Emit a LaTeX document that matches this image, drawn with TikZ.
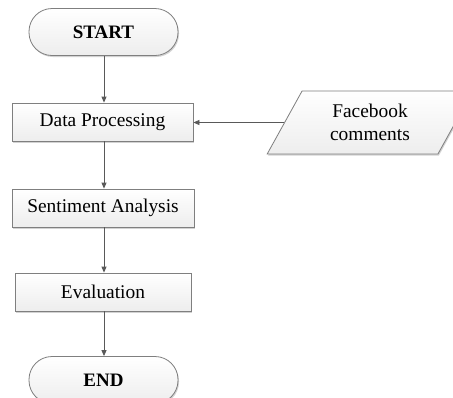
\documentclass[tikz,border=0pt]{standalone}
\usepackage{fontspec}
\setmainfont{Liberation Serif}
\usetikzlibrary{arrows.meta,shapes.geometric,shadows}

\definecolor{edgegray}{HTML}{7F7F7F}
\definecolor{linegray}{HTML}{595959}

\tikzset{
  x=1pt, y=-1pt,
  every node/.style={font=\fontsize{19.4}{23.3}\selectfont, text=black, inner sep=0pt},
  boxstyle/.style={draw=edgegray, line width=0.8pt,
    top color=white, bottom color=gray!14,
    drop shadow={opacity=0.35, shadow xshift=1pt, shadow yshift=-1.5pt}},
  procbox/.style={boxstyle, rectangle, minimum height=38pt},
  termbox/.style={boxstyle, rectangle, rounded corners=23pt,
    minimum width=149pt, minimum height=47pt, font=\fontsize{19}{23}\selectfont\bfseries},
  iobox/.style={boxstyle, trapezium, trapezium left angle=61, trapezium right angle=119,
    trapezium stretches=true, minimum width=206pt, minimum height=63pt, align=center},
  flow/.style={draw=linegray, line width=0.8pt, -{Triangle[length=6pt,width=5pt]}}
}

\begin{document}
\begin{tikzpicture}
  \clip (0,0) rectangle (453,397);
  \fill[white] (0,0) rectangle (453,397);

  % main flow
  \node[termbox]                    (start) at (103.5,32)  {START};
  \node[procbox, minimum width=181pt] (dp)  at (102.5,122) {Data Processing};
  \node[procbox, minimum width=182pt] (sa)  at (103,208)   {Sentiment Analysis};
  \node[procbox, minimum width=176pt] (ev)  at (103,292)   {Evaluation};
  \node[termbox]                    (end)   at (103.5,380) {END};

  % input data
  \node[iobox] (fb) at (370,122.5) {Facebook\\comments};

  % connectors
  \draw[flow] (start.south -| 104,0) -- (dp.north -| 104,0);
  \draw[flow] (dp.south -| 104,0) -- (sa.north -| 104,0);
  \draw[flow] (sa.south -| 104,0) -- (ev.north -| 104,0);
  \draw[flow] (ev.south -| 104,0) -- (end.north -| 104,0);
  \draw[flow] (fb.west) -- (fb.west -| dp.east);
\end{tikzpicture}
\end{document}
